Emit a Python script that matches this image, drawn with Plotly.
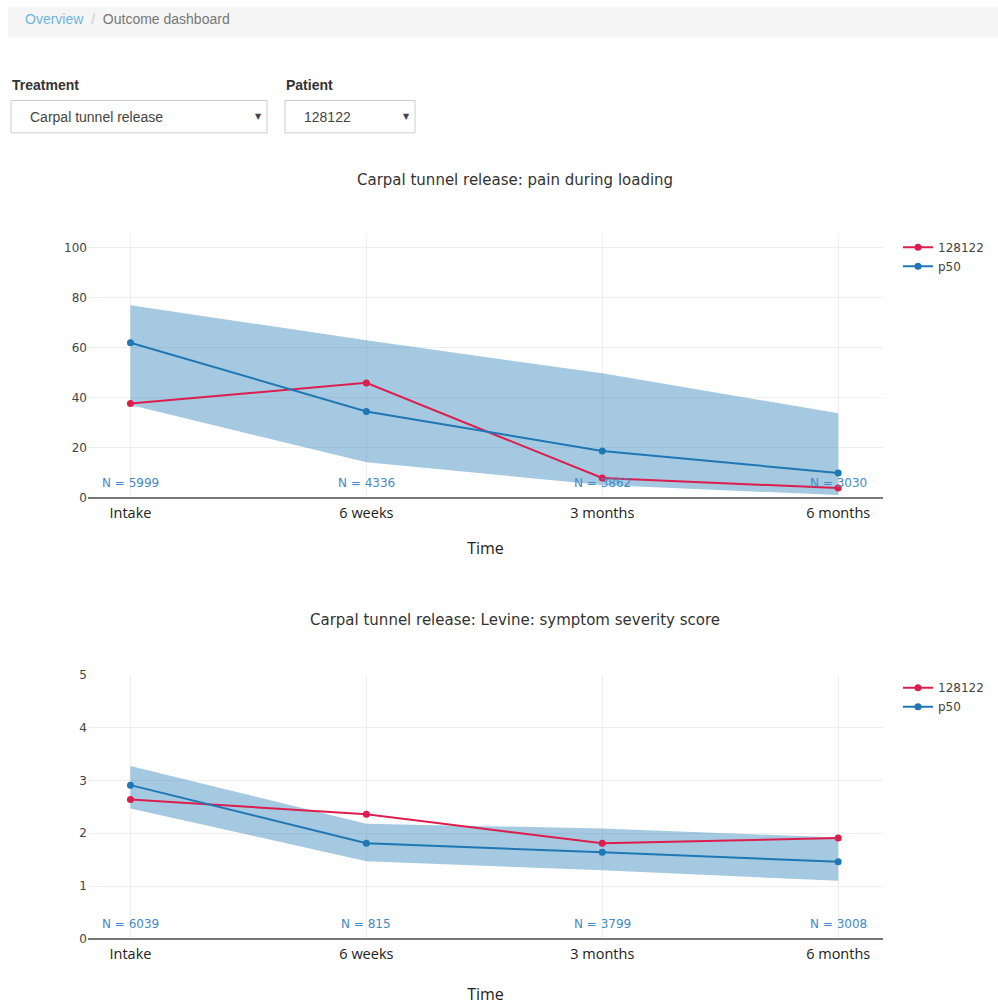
import plotly.graph_objects as go

W, H = 998, 1005

# ---------------- data ----------------
timepoints = ["Intake", "6 weeks", "3 months", "6 months"]

pain_patient = [37.8, 46.0, 8.0, 4.0]
pain_p50 = [62.0, 34.6, 18.8, 10.0]
pain_upper = [77.0, 63.0, 49.8, 33.9]
pain_lower = [37.2, 14.3, 5.2, 1.2]
pain_n = [5999, 4336, 3862, 3030]

lev_patient = [2.64, 2.36, 1.81, 1.91]
lev_p50 = [2.91, 1.81, 1.64, 1.46]
lev_upper = [3.27, 2.18, 2.09, 1.92]
lev_lower = [2.47, 1.47, 1.30, 1.10]
lev_n = [6039, 815, 3799, 3008]

patient_id = "128122"
treatment = "Carpal tunnel release"
titles = ["Carpal tunnel release: pain during loading",
          "Carpal tunnel release: Levine: symptom severity score"]

RED = "#dc1e4e"
BLUE = "#1f77b4"
BAND = "rgba(31,119,180,0.4)"
NCOL = "#4489c6"

# vertical calibration of the capture (screen y = A + B * page y)
A, B = 5.8, 0.9864


def px(x):
    return x / W


def py(y):
    page = max((y - A) / B, 0.0)
    return 1 - page / H


fig = go.Figure()


def add_chart(k, upper, lower, p50, pat, ns):
    xa = "x" if k == 1 else "x2"
    ya = "y" if k == 1 else "y2"
    lg = "legend" if k == 1 else "legend2"
    fig.add_trace(go.Scatter(x=timepoints, y=upper, mode="lines", line=dict(width=0, color=BAND),
                             showlegend=False, hoverinfo="skip", xaxis=xa, yaxis=ya, legend=lg))
    fig.add_trace(go.Scatter(x=timepoints, y=lower, mode="lines", line=dict(width=0, color=BAND),
                             fill="tonexty", fillcolor=BAND, showlegend=False, hoverinfo="skip",
                             xaxis=xa, yaxis=ya, legend=lg))
    fig.add_trace(go.Scatter(x=timepoints, y=pat, mode="lines+markers", name=patient_id,
                             line=dict(color=RED, width=2), marker=dict(size=7, color=RED),
                             xaxis=xa, yaxis=ya, legend=lg))
    fig.add_trace(go.Scatter(x=timepoints, y=p50, mode="lines+markers", name="p50",
                             line=dict(color=BLUE, width=2), marker=dict(size=7, color=BLUE),
                             xaxis=xa, yaxis=ya, legend=lg))
    for t, n in zip(timepoints, ns):
        fig.add_annotation(x=t, y=0, xref=xa, yref=ya, yshift=15.2, showarrow=False,
                           text=f"N = {n}", font=dict(family="DejaVu Sans", size=12, color=NCOL))


add_chart(1, pain_upper, pain_lower, pain_p50, pain_patient, pain_n)
add_chart(2, lev_upper, lev_lower, lev_p50, lev_patient, lev_n)


def xaxis_style(standoff):
    return dict(type="category", range=[-0.18, 3.19], showgrid=True, gridcolor="#eeeeee",
                tickfont=dict(family="Open Sans", size=14.5, color="#222"),
                ticks="outside", ticklen=2, tickcolor="rgba(0,0,0,0)",
                showline=False, zeroline=False, fixedrange=True,
                title=dict(text="Time", font=dict(family="Open Sans", size=16, color="#222"),
                           standoff=standoff))


ycommon = dict(showgrid=True, gridcolor="#eeeeee", zeroline=True, zerolinecolor="#777",
               zerolinewidth=1.5, tickfont=dict(family="DejaVu Sans", size=12, color="#444"),
               ticks="", fixedrange=True)

legfont = dict(family="DejaVu Sans", size=12, color="#444")
fig.update_layout(
    width=W, height=H, margin=dict(l=0, r=0, t=0, b=0),
    paper_bgcolor="white", plot_bgcolor="white",
    xaxis=dict(domain=[px(88), px(883)], anchor="y", **xaxis_style(21)),
    yaxis=dict(domain=[py(498), py(233)], anchor="x", range=[0, 105.6], dtick=20, **ycommon),
    xaxis2=dict(domain=[px(88), px(883)], anchor="y2", **xaxis_style(30)),
    yaxis2=dict(domain=[py(940), py(675)], anchor="x2", range=[0, 5], dtick=1, **ycommon),
    legend=dict(x=px(898), y=py(232), xanchor="left", yanchor="top", font=legfont,
                tracegroupgap=0, traceorder="normal"),
    legend2=dict(x=px(898), y=py(673.6), xanchor="left", yanchor="top", font=legfont,
                 tracegroupgap=0, traceorder="normal"),
    showlegend=True,
)

# Chart titles
for t, yy in zip(titles, [179, 620]):
    fig.add_annotation(x=px(515), y=py(yy), xref="paper", yref="paper", showarrow=False,
                       xanchor="center", yanchor="middle", text=t,
                       font=dict(family="DejaVu Sans", size=15, color="#333"))

# Breadcrumb bar
fig.add_shape(type="rect", xref="paper", yref="paper", x0=px(8), x1=px(998), y0=py(36), y1=1,
              fillcolor="#f5f5f5", line=dict(width=0), layer="below")
fig.add_annotation(x=px(23), y=py(18), xref="paper", yref="paper", showarrow=False,
                   xanchor="left", yanchor="middle",
                   text="<span style='color:#6fb5de'>Overview</span>"
                        "<span style='color:#cccccc'>  /  </span>"
                        "<span style='color:#777777'>Outcome dashboard</span>",
                   font=dict(family="Liberation Sans", size=14))

# Filter labels and select boxes
for label, lx in [("Treatment", 10), ("Patient", 284)]:
    fig.add_annotation(x=px(lx), y=py(84), xref="paper", yref="paper", showarrow=False,
                       xanchor="left", yanchor="middle", text=f"<b>{label}</b>",
                       font=dict(family="Liberation Sans", size=14, color="#333"))

for x0, x1, val in [(11, 267, treatment), (285, 415, patient_id)]:
    fig.add_shape(type="rect", xref="paper", yref="paper", x0=px(x0), x1=px(x1),
                  y0=py(132), y1=py(99.5), fillcolor="white", line=dict(color="#cccccc", width=1))
    fig.add_annotation(x=px(x0 + 17), y=py(116), xref="paper", yref="paper", showarrow=False,
                       xanchor="left", yanchor="middle", text=val,
                       font=dict(family="Liberation Sans", size=14, color="#444"))
    fig.add_annotation(x=px(x1 - 9), y=py(116), xref="paper", yref="paper", showarrow=False,
                       xanchor="center", yanchor="middle", text="▼",
                       font=dict(family="DejaVu Sans", size=8, color="#444"))

pin = ("document.body.style.margin='0';document.body.style.overflow='hidden';"
       "var d=document.getElementById('{plot_id}');"
       "d.style.position='fixed';d.style.left='0px';d.style.top='0px';")
fig.write_html("out.html", config={"displayModeBar": False}, post_script=pin)
